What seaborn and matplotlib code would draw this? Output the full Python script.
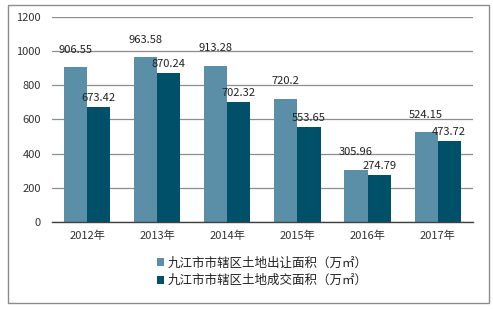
import matplotlib
matplotlib.use("Agg")
import matplotlib.pyplot as plt
import seaborn as sns
import pandas as pd
from matplotlib.patches import Rectangle

years = ["2012年", "2013年", "2014年", "2015年", "2016年", "2017年"]
series_names = ["九江市市辖区土地出让面积（万㎡）", "九江市市辖区土地成交面积（万㎡）"]
transfer = [906.55, 963.58, 913.28, 720.2, 305.96, 524.15]
deal = [673.42, 870.24, 702.32, 553.65, 274.79, 473.72]
yticks = [0, 200, 400, 600, 800, 1000, 1200]
colors = ["#5B8FA8", "#00506A"]

df = pd.DataFrame({
    "year": years * 2,
    "value": transfer + deal,
    "series": [series_names[0]] * len(years) + [series_names[1]] * len(years),
})

sns.set_theme(style="white")
plt.rcParams["font.family"] = ["Noto Sans CJK SC", "DejaVu Sans"]

fig = plt.figure(figsize=(4.93, 3.09), dpi=100)
ax = fig.add_axes([0.1055, 0.2816, 0.8535, 0.6634])

sns.barplot(data=df, x="year", y="value", hue="series", palette=colors,
            width=0.66, ax=ax, legend=True, saturation=1, linewidth=0,
            edgecolor="none")

ax.set_ylim(0, 1200)
ax.set_yticks(yticks)
ax.set_yticklabels([str(t) for t in yticks], fontsize=8, color="#333333")
ax.set_xlim(-0.5, len(years) - 0.5)
ax.tick_params(axis="x", labelsize=8, colors="#333333", length=0, pad=6)
ax.tick_params(axis="y", length=0, pad=8)
ax.set_xlabel("")
ax.set_ylabel("")
ax.yaxis.grid(True, color="#8C8C8C", linewidth=0.9)
ax.set_axisbelow(True)
for s in ["left", "right", "top"]:
    ax.spines[s].set_visible(False)
ax.spines["bottom"].set_color("#404040")
ax.spines["bottom"].set_linewidth(1.0)

for cont, pad in zip(ax.containers, [9, 3]):
    ax.bar_label(cont, labels=[f"{v:g}" for v in cont.datavalues],
                 padding=pad, fontsize=8, color="#222222")

leg = ax.legend(loc="upper center", bbox_to_anchor=(0.5, -0.115), ncol=1,
                frameon=False, fontsize=9, handlelength=0.6, handleheight=0.6,
                handletextpad=0.3, labelspacing=0.35)
for t in leg.get_texts():
    t.set_color("#222222")

fig.patches.append(Rectangle((0.016, 0.02), 0.976, 0.965, transform=fig.transFigure,
                             fill=False, edgecolor="#8C8C8C", linewidth=1.0))

fig.savefig("out.png", dpi=100)
